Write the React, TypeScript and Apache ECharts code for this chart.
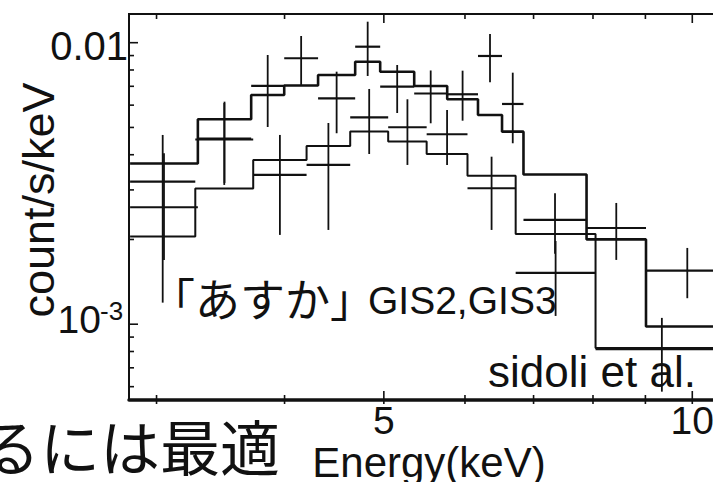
import React, { useEffect, useRef } from "react";
import * as echarts from "echarts";

// Spectrum A (upper): bin edges in keV, folded model and measured rate in count/s/keV
const upperEdges = [2.827, 3.292, 3.711, 3.997, 4.313, 4.688, 4.959, 5.353, 5.765, 6.178, 6.521, 6.843, 7.885, 9.012, 10.85];
const upperModel = [0.003724, 0.005345, 0.006521, 0.007047, 0.007679, 0.00856, 0.007889, 0.007019, 0.006295, 0.005536, 0.00483, 0.003404, 0.002001, 0.000981];
const upperData = [0.002603, 0.004568, 0.007019, 0.008805, 0.006346, 0.009678, 0.006979, 0.006601, 0.006558, 0.00897, 0.006058, 0.002346, 0.002197, 0.00155];
const upperLow = [0.001692, 0.003176, 0.005019, 0.007077, 0.004768, 0.007617, 0.005627, 0.005173, 0.005284, 0.007235, 0.004393, 0.001781, 0.001692, 0.001237];
const upperHigh = [0.004047, 0.006173, 0.009044, 0.010563, 0.007889, 0.011874, 0.008332, 0.007967, 0.007954, 0.010737, 0.007825, 0.002918, 0.002696, 0.001866];

// Spectrum B (lower)
const lowerEdges = [2.827, 3.273, 3.728, 4.203, 4.636, 5.049, 5.505, 6.034, 6.724, 8.046, 10.84];
const lowerModel = [0.00205, 0.003036, 0.003833, 0.004297, 0.004838, 0.004458, 0.004024, 0.003371, 0.002092, 0.000824];
const lowerData = [0.003209, 0.004531, 0.00339, 0.003679, 0.005433, 0.005007, 0.004729, 0.003041, 0.001521, 0.000815];
const lowerLow = [0.001193, 0.003124, 0.002076, 0.002162, 0.004024, 0.003679, 0.003679, 0.002162, 0.00107, 0.000576];
const lowerHigh = [0.004702, 0.006108, 0.004702, 0.005186, 0.006849, 0.006295, 0.005767, 0.003936, 0.001976, 0.001053];

// Axis ranges and ticks
const X_MIN = 2.82;
const X_MAX = 11;
const Y_MIN = 0.000538;
const Y_MAX = 0.012645;
const xMajorTicks = [5, 10];
const xMajorLabels = ["5", "10"];
const xMinorTicks = [3, 4, 6, 7, 8, 9];
const yMajorTicks = [0.001, 0.01];
const yMajorLabels = ["10^-3", "0.01"];
const yMinorTicks = [0.0006, 0.0007, 0.0008, 0.0009, 0.002, 0.003, 0.004, 0.005, 0.006, 0.007, 0.008, 0.009];

const INK = "#111";
const LATIN = "'Liberation Sans', Arial, sans-serif";
const CJK = "'Noto Sans CJK JP', sans-serif";

const stepData = (edges: number[], vals: number[]) =>
  edges.map((e, i) => [e, vals[Math.min(i, vals.length - 1)]]);

const crossData = (edges: number[], vals: number[], lo: number[], hi: number[]) =>
  vals.map((v, i) => [Math.sqrt(edges[i] * edges[i + 1]), v, lo[i], hi[i], edges[i], edges[i + 1]]);

const renderCross = (_params: any, api: any) => {
  const y = api.value(1);
  const left = api.coord([api.value(4), y]);
  const right = api.coord([api.value(5), y]);
  const top = api.coord([api.value(0), api.value(3)]);
  const bot = api.coord([api.value(0), api.value(2)]);
  return {
    type: "group",
    children: [
      { type: "line", shape: { x1: left[0], y1: left[1], x2: right[0], y2: right[1] }, style: { stroke: INK, lineWidth: 2.2 } },
      { type: "line", shape: { x1: top[0], y1: top[1], x2: bot[0], y2: bot[1] }, style: { stroke: INK, lineWidth: 1.8 } },
    ],
  };
};

const textStyle = (text: string, size: number, family: string, align: string, vAlign = "middle") => ({
  text,
  fontSize: size,
  fontFamily: family,
  fill: INK,
  textFill: INK,
  align,
  textAlign: align,
  verticalAlign: vAlign,
  textVerticalAlign: vAlign,
});

const renderXTick = (params: any, api: any) => {
  const cs = params.coordSys;
  const px = api.coord([api.value(0), api.value(1)])[0];
  const major = api.value(2) === 1;
  const len = major ? 9 : 5;
  const bottom = cs.y + cs.height;
  const children: any[] = [
    { type: "line", shape: { x1: px, y1: bottom - len, x2: px, y2: bottom + 4 }, style: { stroke: INK, lineWidth: 1.6 } },
    { type: "line", shape: { x1: px, y1: cs.y, x2: px, y2: cs.y + len }, style: { stroke: INK, lineWidth: 1.6 } },
  ];
  if (major) {
    const label = xMajorLabels[api.value(3)];
    children.push({ type: "text", x: px, y: bottom + 20.5, style: textStyle(label, 39, LATIN, "center") });
  }
  return { type: "group", children };
};

const renderYTick = (params: any, api: any) => {
  const cs = params.coordSys;
  const py = api.coord([api.value(0), api.value(1)])[1];
  const major = api.value(2) === 1;
  const len = major ? 9 : 5;
  const children: any[] = [
    { type: "line", shape: { x1: cs.x, y1: py, x2: cs.x + len, y2: py }, style: { stroke: INK, lineWidth: 1.6 } },
  ];
  if (major) {
    const label = yMajorLabels[api.value(3)];
    const [base, sup] = label.split("^");
    if (sup !== undefined) {
      children.push({ type: "text", x: cs.x - 28, y: py - 5, style: textStyle(base, 39, LATIN, "right") });
      children.push({ type: "text", x: cs.x - 29, y: py - 13, style: textStyle(sup, 26, LATIN, "left") });
    } else {
      children.push({ type: "text", x: cs.x - 1, y: py + 3, style: textStyle(base, 40, LATIN, "right") });
    }
  }
  return { type: "group", children };
};

const buildOption = () => ({
  animation: false,
  backgroundColor: "#fff",
  grid: { left: 129, top: 14, right: 25.3, bottom: 82, show: true, borderColor: INK, borderWidth: 2 },
  xAxis: {
    type: "log",
    logBase: 10,
    min: X_MIN,
    max: X_MAX,
    axisLine: { show: true, lineStyle: { color: INK, width: 3.5 } },
    axisTick: { show: false },
    axisLabel: { show: false },
    splitLine: { show: false },
  },
  yAxis: {
    type: "log",
    logBase: 10,
    min: Y_MIN,
    max: Y_MAX,
    axisLine: { show: true, lineStyle: { color: INK, width: 2 } },
    axisTick: { show: false },
    axisLabel: { show: false },
    splitLine: { show: false },
  },
  series: [
    {
      name: "upper model",
      type: "line",
      step: "end",
      showSymbol: false,
      data: stepData(upperEdges, upperModel),
      lineStyle: { color: INK, width: 2.6 },
      z: 3,
    },
    {
      name: "lower model",
      type: "line",
      step: "end",
      showSymbol: false,
      data: stepData(lowerEdges, lowerModel),
      lineStyle: { color: INK, width: 2 },
      z: 3,
    },
    {
      name: "upper data",
      type: "custom",
      renderItem: renderCross,
      encode: { x: 0, y: 1 },
      data: crossData(upperEdges, upperData, upperLow, upperHigh),
      z: 4,
    },
    {
      name: "lower data",
      type: "custom",
      renderItem: renderCross,
      encode: { x: 0, y: 1 },
      data: crossData(lowerEdges, lowerData, lowerLow, lowerHigh),
      z: 4,
    },
    {
      name: "x ticks",
      type: "custom",
      renderItem: renderXTick,
      encode: { x: 0, y: 1 },
      data: [
        ...xMajorTicks.map((v, i) => [v, Y_MIN, 1, i]),
        ...xMinorTicks.map((v) => [v, Y_MIN, 0, -1]),
      ],
      z: 5,
    },
    {
      name: "y ticks",
      type: "custom",
      renderItem: renderYTick,
      encode: { x: 0, y: 1 },
      data: [
        ...yMajorTicks.map((v, i) => [X_MIN, v, 1, i]),
        ...yMinorTicks.map((v) => [X_MIN, v, 0, -1]),
      ],
      z: 5,
    },
  ],
  graphic: [
    { type: "text", x: 38, y: 200, rotation: Math.PI / 2, z: 10, style: textStyle("count/s/keV", 45, LATIN, "center") },
    { type: "text", x: 429, y: 462, z: 10, style: textStyle("Energy(keV)", 42, LATIN, "center") },
    { type: "text", x: 280, y: 444, z: 10, style: textStyle("るには最適", 60, CJK, "right") },
    { type: "text", x: 150, y: 297, z: 10, style: textStyle("「あすか」", 45, CJK, "left") },
    { type: "text", x: 368, y: 300.5, z: 10, style: textStyle("GIS2,GIS3", 39, LATIN, "left") },
    { type: "text", x: 488, y: 371.5, z: 10, style: textStyle("sidoli et al.", 44, LATIN, "left") },
  ],
});

export default function App() {
  const ref = useRef<HTMLDivElement>(null);
  useEffect(() => {
    if (!ref.current) return;
    const chart = echarts.init(ref.current, null, { renderer: "svg" });
    chart.setOption(buildOption() as any);
    return () => chart.dispose();
  }, []);
  return (
    <div
      style={{
        position: "fixed",
        left: 0,
        top: 0,
        width: 713,
        height: 482,
        overflow: "hidden",
        background: "#fff",
      }}
    >
      <div ref={ref} style={{ width: 760, height: 482 }} />
    </div>
  );
}
